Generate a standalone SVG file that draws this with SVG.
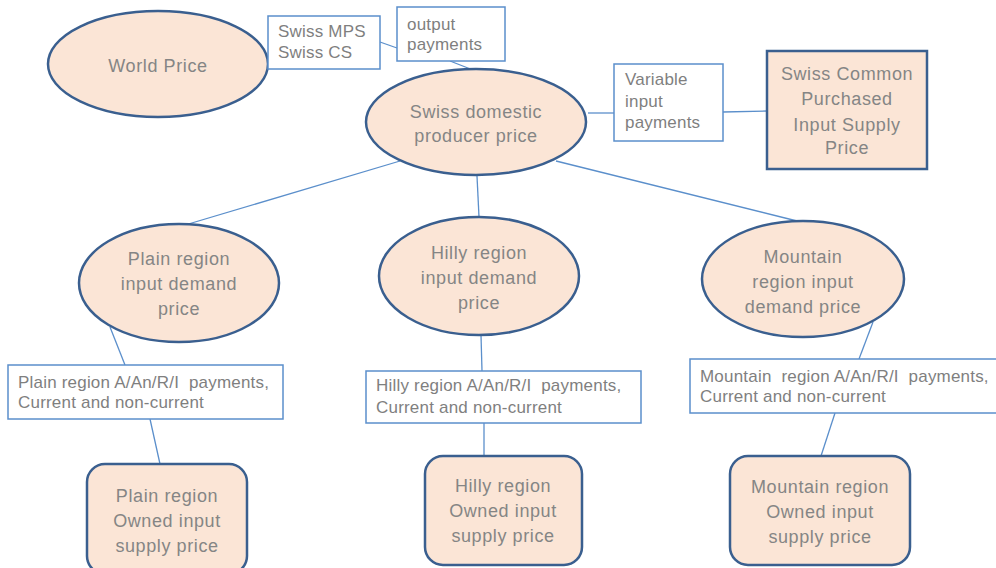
<svg xmlns="http://www.w3.org/2000/svg" width="996" height="568" viewBox="0 0 996 568">
<style>
.node{fill:#FBE5D6;stroke:#3A5F8F;stroke-width:2.5}
.box{fill:#FFFFFF;stroke:#5B8FCB;stroke-width:1.5}
.t{font-family:"Liberation Sans",Arial,sans-serif;font-size:18px;letter-spacing:0.6px;fill:#858585;text-anchor:middle}
.bt{font-family:"Liberation Sans",Arial,sans-serif;font-size:17px;letter-spacing:0.2px;fill:#7F7F7F;white-space:pre}
.c{stroke:#5B8FCB;stroke-width:1.3;fill:none}
</style>
<rect width="996" height="568" fill="#FFFFFF"/>
<g id="connectors">
<line class="c" x1="380" y1="42" x2="397" y2="48"/>
<line class="c" x1="450" y1="61" x2="473" y2="70"/>
<line class="c" x1="588" y1="113" x2="614" y2="113"/>
<line class="c" x1="723" y1="112" x2="767" y2="111"/>
<line class="c" x1="400" y1="161" x2="185" y2="225"/>
<line class="c" x1="477" y1="176" x2="479" y2="217"/>
<line class="c" x1="556" y1="161" x2="797" y2="221"/>
<line class="c" x1="110" y1="327" x2="125" y2="365"/>
<line class="c" x1="150" y1="419" x2="160" y2="464"/>
<line class="c" x1="481" y1="335" x2="482" y2="371"/>
<line class="c" x1="484" y1="423" x2="484" y2="456"/>
<line class="c" x1="873" y1="322" x2="859" y2="359"/>
<line class="c" x1="835" y1="413" x2="821" y2="456"/>
</g>
<g id="world-price">
<ellipse class="node" cx="158" cy="64" rx="110" ry="53"/>
<text class="t" x="158" y="72">World Price</text>
</g>
<g id="swiss-mps-box">
<rect class="box" x="268" y="16" width="112" height="53"/>
<text class="bt" x="278" y="37">Swiss MPS</text>
<text class="bt" x="278" y="58">Swiss CS</text>
</g>
<g id="output-payments-box">
<rect class="box" x="397" y="7" width="108" height="54"/>
<text class="bt" x="407" y="30">output</text>
<text class="bt" x="407" y="50">payments</text>
</g>
<g id="swiss-domestic">
<ellipse class="node" cx="476" cy="122" rx="110" ry="53"/>
<text class="t" x="476" y="118">Swiss domestic</text>
<text class="t" x="476" y="142">producer price</text>
</g>
<g id="variable-input-box">
<rect class="box" x="614" y="64" width="109" height="77"/>
<text class="bt" x="625" y="85">Variable</text>
<text class="bt" x="625" y="107">input</text>
<text class="bt" x="625" y="128">payments</text>
</g>
<g id="swiss-common">
<rect class="node" x="767" y="51" width="160" height="118"/>
<text class="t" x="847" y="80">Swiss Common</text>
<text class="t" x="847" y="105">Purchased</text>
<text class="t" x="847" y="131">Input Supply</text>
<text class="t" x="847" y="154">Price</text>
</g>
<g id="plain-demand">
<ellipse class="node" cx="179" cy="283" rx="100" ry="59"/>
<text class="t" x="179" y="265">Plain region</text>
<text class="t" x="179" y="290">input demand</text>
<text class="t" x="179" y="315">price</text>
</g>
<g id="hilly-demand">
<ellipse class="node" cx="479" cy="276" rx="100" ry="59"/>
<text class="t" x="479" y="259">Hilly region</text>
<text class="t" x="479" y="284">input demand</text>
<text class="t" x="479" y="309">price</text>
</g>
<g id="mountain-demand">
<ellipse class="node" cx="803" cy="279" rx="101" ry="58"/>
<text class="t" x="803" y="263">Mountain</text>
<text class="t" x="803" y="288">region input</text>
<text class="t" x="803" y="313">demand price</text>
</g>
<g id="plain-payments-box">
<rect class="box" x="8" y="365" width="275" height="54"/>
<text class="bt" x="18" y="388">Plain region A/An/R/I  payments,</text>
<text class="bt" x="18" y="408">Current and non-current</text>
</g>
<g id="hilly-payments-box">
<rect class="box" x="366" y="371" width="275" height="52"/>
<text class="bt" x="376" y="391">Hilly region A/An/R/I  payments,</text>
<text class="bt" x="376" y="413">Current and non-current</text>
</g>
<g id="mountain-payments-box">
<rect class="box" x="690" y="359" width="310" height="54"/>
<text class="bt" x="700" y="382">Mountain  region A/An/R/I  payments,</text>
<text class="bt" x="700" y="402">Current and non-current</text>
</g>
<g id="plain-owned">
<rect class="node" x="87" y="464" width="160" height="110" rx="18"/>
<text class="t" x="167" y="502">Plain region</text>
<text class="t" x="167" y="527">Owned input</text>
<text class="t" x="167" y="552">supply price</text>
</g>
<g id="hilly-owned">
<rect class="node" x="425" y="456" width="157" height="109" rx="18"/>
<text class="t" x="503" y="492">Hilly region</text>
<text class="t" x="503" y="517">Owned input</text>
<text class="t" x="503" y="542">supply price</text>
</g>
<g id="mountain-owned">
<rect class="node" x="730" y="456" width="180" height="109" rx="18"/>
<text class="t" x="820" y="493">Mountain region</text>
<text class="t" x="820" y="518">Owned input</text>
<text class="t" x="820" y="543">supply price</text>
</g>
</svg>
